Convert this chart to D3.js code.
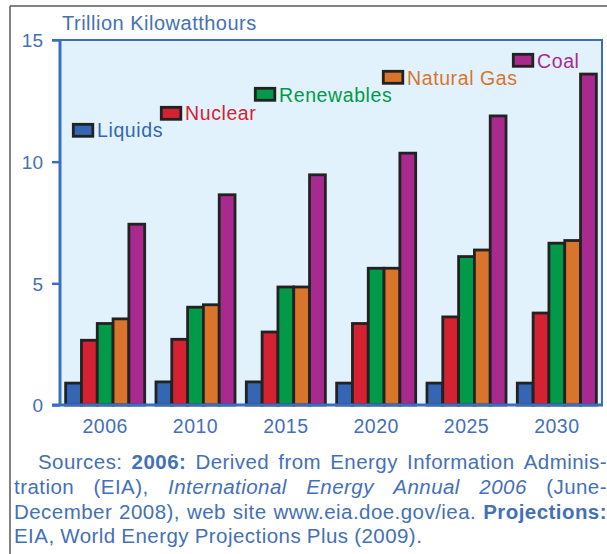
<!DOCTYPE html>
<html>
<head>
<meta charset="utf-8">
<script src="https://cdn.jsdelivr.net/npm/d3@7/dist/d3.min.js"></script>
<style>
  html, body { margin: 0; padding: 0; background: #fff; }
  svg { display: block; font-family: "Liberation Sans", Arial, Helvetica, sans-serif; }
</style>
</head>
<body>
<svg id="chart" width="607" height="554"></svg>
<script>
// ---- data ----
const years = ["2006", "2010", "2015", "2020", "2025", "2030"];
const seriesNames = ["Liquids", "Nuclear", "Renewables", "Natural Gas", "Coal"];
const liquids    = [0.90, 0.95, 0.95, 0.90, 0.90, 0.90];
const nuclear    = [2.66, 2.70, 3.00, 3.35, 3.62, 3.78];
const renewables = [3.35, 4.02, 4.85, 5.62, 6.10, 6.65];
const naturalGas = [3.54, 4.12, 4.85, 5.62, 6.37, 6.76];
const coal       = [7.43, 8.64, 9.46, 10.35, 11.88, 13.60];
const yTicks = [0, 5, 10, 15];
const yTitle = "Trillion Kilowatthours";

const seriesValues = [liquids, nuclear, renewables, naturalGas, coal];
const colors = ["#3566b4", "#d42233", "#019a48", "#d9742b", "#a82a8e"];
const textBlue = "#4470b8";
const axisBlue = "#3b6fbd";

const svg = d3.select("#chart");

// outer frame
svg.append("line").attr("x1", 10).attr("x2", 10).attr("y1", 6).attr("y2", 554)
  .attr("stroke", "#5a5a5a").attr("stroke-width", 1.5);
svg.append("line").attr("x1", 10).attr("x2", 607).attr("y1", 6).attr("y2", 6)
  .attr("stroke", "#5a5a5a").attr("stroke-width", 1.5);

const pLeft = 60, pRight = 602, pTop = 40, pBottom = 405;

const x0 = d3.scaleBand().domain(years).range([pLeft, pRight]).paddingInner(0.125).paddingOuter(0.0625);
const x1 = d3.scaleBand().domain(seriesNames).range([0, x0.bandwidth()]);
const y = d3.scaleLinear().domain([0, 15]).range([pBottom, pTop]);

// plot background
svg.append("rect").attr("x", pLeft).attr("y", pTop).attr("width", pRight - pLeft).attr("height", pBottom - pTop)
  .attr("fill", "#e1f2fc");

// bars
const rows = years.map((yr, i) => ({ year: yr, vals: seriesNames.map((s, j) => ({ s, j, v: seriesValues[j][i] })) }));
const g = svg.append("g");
g.selectAll("g.grp").data(rows).join("g").attr("class", "grp")
  .attr("transform", d => `translate(${x0(d.year)},0)`)
  .selectAll("rect").data(d => d.vals).join("rect")
  .attr("x", d => x1(d.s))
  .attr("y", d => y(d.v))
  .attr("width", x1.bandwidth())
  .attr("height", d => y(0) - y(d.v))
  .attr("fill", d => colors[d.j])
  .attr("stroke", "#222")
  .attr("stroke-width", 2.8);

// borders (top, right)
svg.append("line").attr("x1", 52).attr("x2", pRight + 1).attr("y1", pTop).attr("y2", pTop)
  .attr("stroke", axisBlue).attr("stroke-width", 2);
svg.append("line").attr("x1", pRight).attr("x2", pRight).attr("y1", pTop).attr("y2", pBottom)
  .attr("stroke", axisBlue).attr("stroke-width", 2);

// y axis
const yAxis = d3.axisLeft(y).tickValues(yTicks).tickSize(8).tickPadding(9).tickFormat(d3.format("d"));
const ya = svg.append("g").attr("transform", `translate(${pLeft},0)`).call(yAxis);
ya.select(".domain").attr("stroke", axisBlue).attr("stroke-width", 3).attr("d", `M0,${pTop}V${pBottom}`);
ya.selectAll(".tick line").attr("stroke", axisBlue).attr("stroke-width", 2.5);
ya.selectAll(".tick text").attr("fill", textBlue).attr("font-size", 19)
  .attr("font-family", "Liberation Sans, Arial, sans-serif").attr("dy", "0.36em");

// x axis
const xAxis = d3.axisBottom(x0).tickSize(0).tickPadding(14);
const xa = svg.append("g").attr("transform", `translate(0,${pBottom})`).call(xAxis);
xa.select(".domain").attr("stroke", axisBlue).attr("stroke-width", 3).attr("d", `M52,0H${pRight + 1}`);
xa.selectAll(".tick text").attr("fill", textBlue).attr("font-size", 19.5)
  .attr("font-family", "Liberation Sans, Arial, sans-serif").attr("dy", "0.71em")
  .attr("letter-spacing", "0.5px");

// y title
svg.append("text").attr("x", 62).attr("y", 30).attr("fill", textBlue).attr("font-size", 20)
  .attr("letter-spacing", "0.5px").text(yTitle);

// legend
const legendPos = [[72, 123, 137], [160, 106, 120], [254, 87, 102], [382, 70, 85], [512, 53, 68]];
seriesNames.forEach((name, j) => {
  const [lx, ly, base] = legendPos[j];
  svg.append("rect").attr("x", lx + 1.3).attr("y", ly + 1.3).attr("width", 19.5).attr("height", 12)
    .attr("fill", colors[j]).attr("stroke", "#222").attr("stroke-width", 2.8);
  svg.append("text").attr("x", lx + 25).attr("y", base).attr("fill", colors[j])
    .attr("font-size", 19.5).attr("letter-spacing", "0.6px").text(name);
});

// footnote (justified)
const footLines = [
  { x: 38, justify: true, tokens: [["Sources:", "n"], ["2006:", "b"], ["Derived", "n"], ["from", "n"], ["Energy", "n"], ["Information", "n"], ["Adminis-", "n"]] },
  { x: 14, justify: true, tokens: [["tration", "n"], ["(EIA),", "n"], ["International", "i"], ["Energy", "i"], ["Annual", "i"], ["2006", "i"], ["(June-", "n"]] },
  { x: 14, justify: true, tokens: [["December", "n"], ["2008),", "n"], ["web", "n"], ["site", "n"], ["www.eia.doe.gov/iea.", "n"], ["Projections:", "b"]] },
  { x: 14, justify: false, tokens: [["EIA,", "n"], ["World", "n"], ["Energy", "n"], ["Projections", "n"], ["Plus", "n"], ["(2009).", "n"]] }
];
const footRight = 607;
const baselines = [469, 494, 519, 543];
footLines.forEach((line, li) => {
  const nodes = line.tokens.map(([t, st]) => svg.append("text")
    .attr("y", baselines[li]).attr("fill", textBlue).attr("font-size", 20.5)
    .attr("letter-spacing", "0.45px")
    .attr("font-weight", st === "b" ? "bold" : "normal")
    .attr("font-style", st === "i" ? "italic" : "normal")
    .text(t));
  const widths = nodes.map(n => n.node().getComputedTextLength());
  const total = d3.sum(widths);
  let gap = 5.7;
  if (line.justify) gap = Math.max(2.5, (footRight - line.x - total) / (nodes.length - 1));
  let cx = line.x;
  nodes.forEach((n, k) => { n.attr("x", cx); cx += widths[k] + gap; });
});
</script>
</body>
</html>
